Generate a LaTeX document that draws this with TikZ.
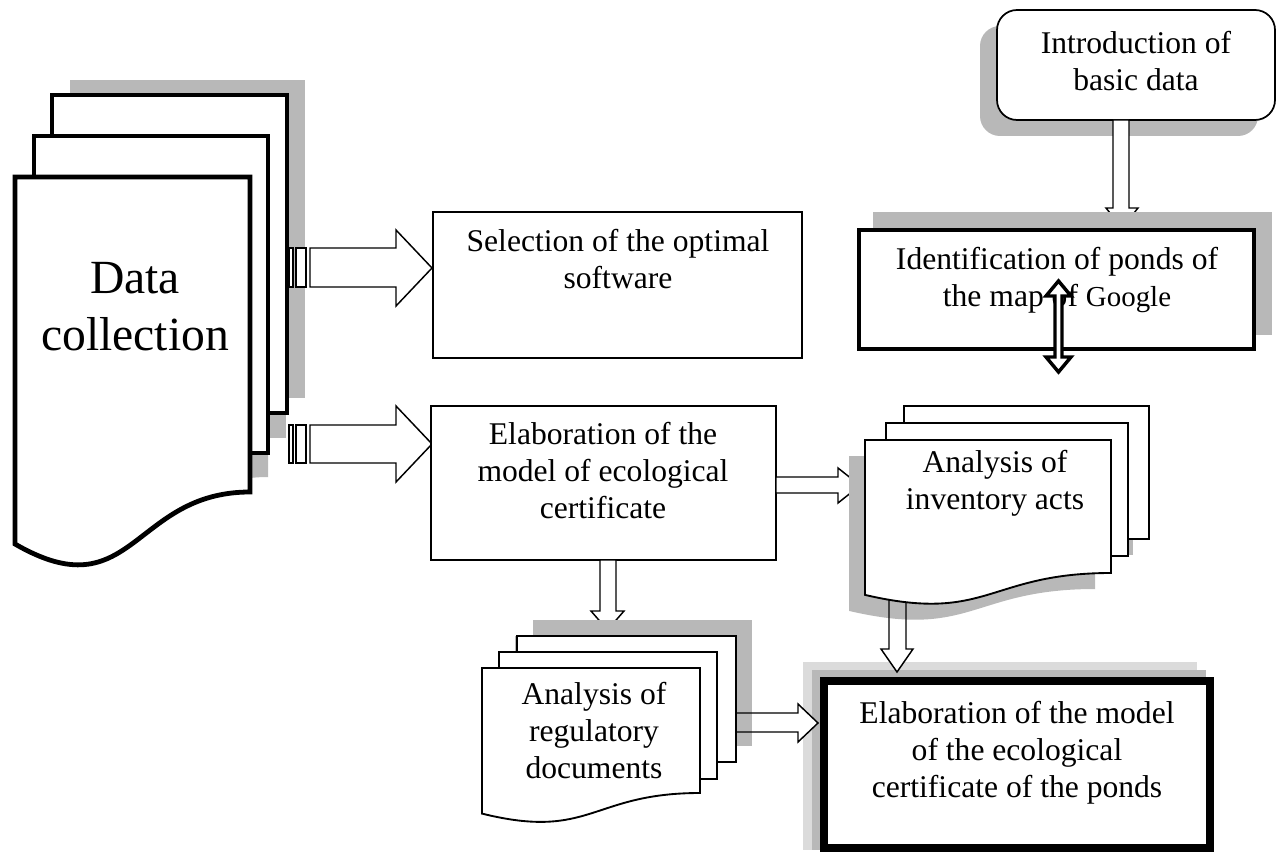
\documentclass[tikz,border=0pt]{standalone}
\usepackage{fontspec}
\setmainfont{Liberation Serif}
\newcommand\txtfont{\fontsize{23.7}{27.75}\selectfont}
\newcommand\bigtxtfont{\fontsize{35.7}{42.75}\selectfont}
\newcommand\smtxtfont{\fontsize{21.7}{27.75}\selectfont}
\tikzset{
  sh/.style={fill=black!28, draw=none},
  shl/.style={fill=black!14, draw=none},
  box/.style={draw=black, fill=white, line width=1.3pt, line join=miter},
  doc/.style={draw=black, fill=white, line width=1.4pt, line join=miter},
  bigdoc/.style={draw=black, fill=white, line width=3.6pt, line join=miter},
  thickbox/.style={draw=black, fill=white, line width=3.6pt, line join=miter},
  harrow/.style={draw=black, fill=white, line width=1.1pt, line join=miter},
  lbl/.style={inner sep=0pt, align=center, font=\txtfont,
    execute at begin node=\strut, execute at end node=\strut},
}
\begin{document}
\begin{tikzpicture}[x=0.75pt,y=-0.75pt]
\fill[white] (0,0) rectangle (1282,852);
\useasboundingbox (0,0) rectangle (1282,852);

% ---------- Data collection (multidocument) ----------
\begin{scope}[shift={(18,-15)}]
  \fill[sh] (52,95) rectangle (287,413);
  \fill[sh] (34,136) rectangle (268,453);
  \fill[sh] (15,177) -- (250,177) -- (250,492) .. controls (132.5,492) and (132.5,612) .. (15,544) -- cycle;
\end{scope}
\draw[bigdoc] (52,95) rectangle (287,413);
\draw[bigdoc] (34,136) rectangle (268,453);
\draw[bigdoc] (15,177) -- (250,177) -- (250,492) .. controls (132.5,492) and (132.5,612) .. (15,544) -- cycle;

% striped arrows
\draw[harrow] (289,248) rectangle (293,287);
\draw[harrow] (296,248) rectangle (306,287);
\draw[harrow] (310,248) -- (396,248) -- (396,230) -- (432,268) -- (396,306) -- (396,287) -- (310,287) -- cycle;
\draw[harrow] (289,425) rectangle (293,463);
\draw[harrow] (296,425) rectangle (306,463);
\draw[harrow] (310,425) -- (396,425) -- (396,406) -- (432,444) -- (396,482) -- (396,463) -- (310,463) -- cycle;

% ---------- Selection box ----------
\draw[box] (433,212) rectangle (802,358);

% ---------- Elaboration box ----------
\draw[box] (431,406) rectangle (776,560);

% Elaboration -> Inventory
\draw[harrow] (776,477) -- (838,477) -- (838,468) -- (860,485.5) -- (838,503) -- (838,493) -- (776,493) -- cycle;
% Elaboration -> Regulatory
\draw[harrow] (600,560) -- (600,611) -- (591,611) -- (607.5,630) -- (624,611) -- (616,611) -- (616,560) -- cycle;

% ---------- Intro rounded box ----------
\fill[sh, rounded corners=15pt] (980,26) rectangle (1258,136);
\draw[box, rounded corners=15pt] (997,10) rectangle (1275,120);
% Intro -> Identification
\draw[harrow] (1113,120) -- (1113,208) -- (1106,208) -- (1122,228) -- (1138,208) -- (1129,208) -- (1129,120) -- cycle;

% ---------- Identification box ----------
\fill[sh] (873,212) rectangle (1272,335);
\draw[thickbox] (859,230) rectangle (1254,349);

% ---------- Final box ----------
\fill[shl] (803,662) rectangle (1197,850);
\fill[sh] (812,670) rectangle (1206,850);
\draw[thickbox, line width=5.6pt] (824,681) rectangle (1210,848);

% arrows that pass under shadows (fill first)
\fill[white] (889,598) -- (889,649) -- (881,649) -- (897,672) -- (913,649) -- (906,649) -- (906,598) -- cycle;
\fill[white] (737,713) -- (798,713) -- (798,704) -- (818,723) -- (798,742) -- (798,732) -- (737,732) -- cycle;

% ---------- Inventory multidocument (shadow -16,+16) ----------
\begin{scope}[shift={(-16,16)}]
  \fill[sh] (904,406) rectangle (1149,539);
  \fill[sh] (886,423) rectangle (1128,556);
  \fill[sh] (865,440) -- (1111,440) -- (1111,573) .. controls (988,573) and (988,623.6) .. (865,594.9) -- cycle;
\end{scope}

% ---------- Regulatory multidocument (shadow +16,-16) ----------
\begin{scope}[shift={(16,-16)}]
  \fill[sh] (517,636) rectangle (736,762);
  \fill[sh] (499,652) rectangle (717,779);
  \fill[sh] (482,668) -- (700,668) -- (700,793) .. controls (591,793) and (591,840.6) .. (482,813.6) -- cycle;
\end{scope}

% arrow outlines over shadows
\draw[harrow, fill=none] (889,598) -- (889,649) -- (881,649) -- (897,672) -- (913,649) -- (906,649) -- (906,598);
\draw[harrow, fill=none] (737,713) -- (798,713) -- (798,704) -- (818,723) -- (798,742) -- (798,732) -- (737,732);

% inventory pages
\draw[doc] (904,406) rectangle (1149,539);
\draw[doc] (886,423) rectangle (1128,556);
\draw[doc] (865,440) -- (1111,440) -- (1111,573) .. controls (988,573) and (988,623.6) .. (865,594.9) -- cycle;

% regulatory pages
\draw[doc] (517,636) rectangle (736,762);
\draw[doc] (499,652) rectangle (717,779);
\draw[doc] (482,668) -- (700,668) -- (700,793) .. controls (591,793) and (591,840.6) .. (482,813.6) -- cycle;

% ---------- Texts ----------
\node[lbl, font=\bigtxtfont] (tdata) at (135,315.1) {Data\\collection};
\node[lbl] (tsel) at (618,264.1) {Selection of the optimal\\software};
\node[lbl] (telab) at (603,476.4) {Elaboration of the\\model of ecological\\certificate};
\node[lbl] (tinv) at (995,485.6) {Analysis of\\inventory acts};
\node[lbl] (treg) at (594,736) {Analysis of\\regulatory\\documents};
\node[lbl] (tfin) at (1017,755.1) {Elaboration of the model\\of the ecological\\certificate of the ponds};
\node[lbl] (tintro) at (1136,66.6) {Introduction of\\basic data};
\node[lbl] (tid) at (1057,282.6) {Identification of ponds of\\the map of {\smtxtfont Google}};

% double arrow Identification <-> Inventory
\draw[draw=black, fill=white, line width=2.6pt, line join=miter]
  (1058.5,281) -- (1071,296) -- (1062,296) -- (1062,357) -- (1071,357) -- (1058.5,372)
  -- (1046,357) -- (1055,357) -- (1055,296) -- (1046,296) -- cycle;
\end{tikzpicture}
\end{document}
